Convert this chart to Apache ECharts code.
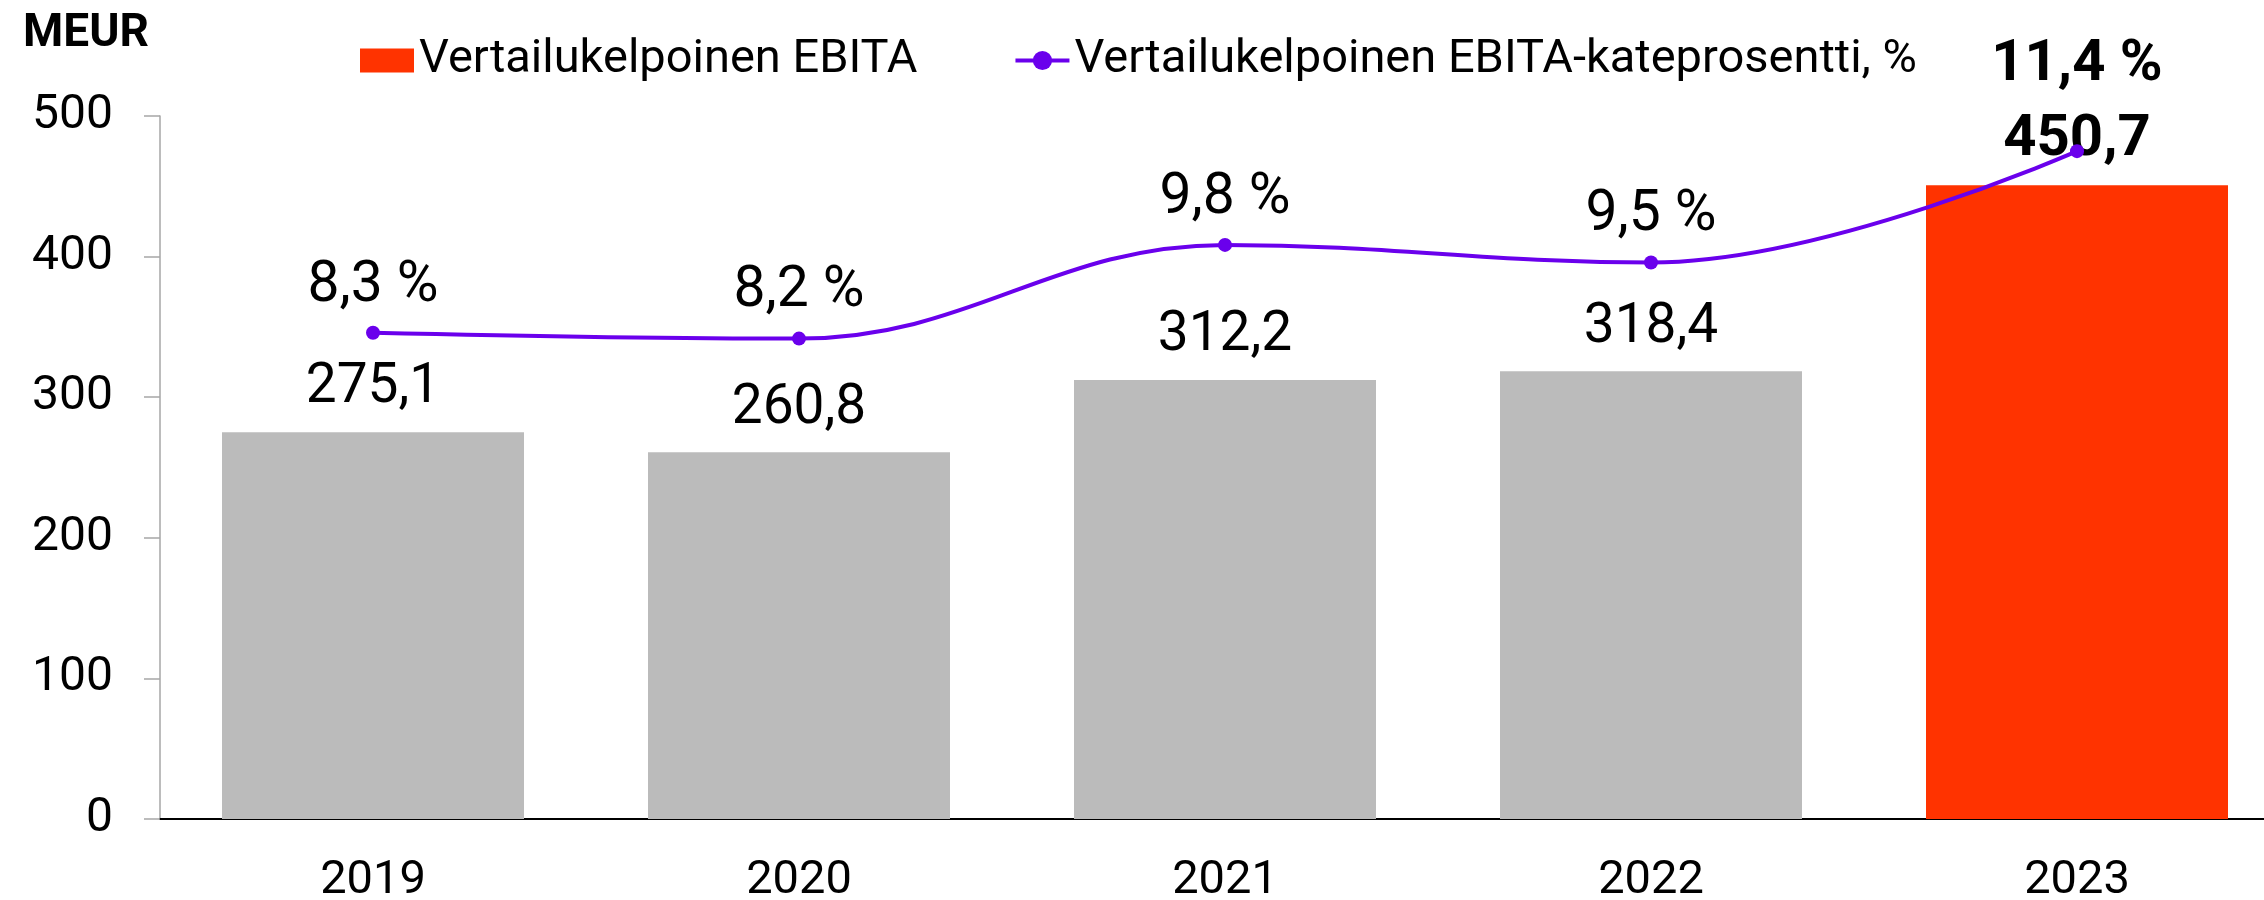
<!DOCTYPE html>
<html>
<head>
<meta charset="utf-8">
<title>Vertailukelpoinen EBITA</title>
<script src="https://cdn.jsdelivr.net/npm/echarts@6/dist/echarts.min.js"></script>
<style>
  html, body { margin: 0; padding: 0; background: #fff; overflow: hidden; }
  /* the plot runs past the right edge of the picture, as in the original */
  #chart { width: 2290px; height: 900px; }
</style>
</head>
<body>
<div id="chart"></div>
<script>
  // data
  var years = ['2019', '2020', '2021', '2022', '2023']
  var ebita = [275.1, 260.8, 312.2, 318.4, 450.7]
  var margin = [8.3, 8.2, 9.8, 9.5, 11.4]
  var yTicks = [0, 100, 200, 300, 400, 500]

  var FONT = 'Roboto'
  var GREY = '#bbbbbb'
  var RED = '#ff3300'
  var PURPLE = '#6a00ec'
  var last = years.length - 1

  function fi (v) {
    return String(v).replace('.', ',')
  }

  var barData = ebita.map(function (v, i) {
    var d = { value: v }
    if (i !== last) {
      d.itemStyle = { color: GREY }
    } else {
      d.label = { fontWeight: 'bold', fontSize: 58 }
    }
    return d
  })

  var lineData = margin.map(function (v, i) {
    var d = { value: v }
    if (i === last) {
      d.label = { fontWeight: 'bold', fontSize: 58, distance: 50 }
    }
    return d
  })

  var chart = echarts.init(document.getElementById('chart'))

  var option = {
    animation: false,
    textStyle: { fontFamily: FONT },
    title: {
      text: 'MEUR',
      left: 18,
      top: 6,
      textStyle: { fontFamily: FONT, fontSize: 46, fontWeight: 'bold', color: '#000' }
    },
    legend: {
      left: 355,
      top: 32,
      itemWidth: 54,
      itemHeight: 24,
      itemGap: 96,
      textStyle: { fontFamily: FONT, fontSize: 47, color: '#000' },
      lineStyle: { width: 4 },
      data: [
        { name: 'Vertailukelpoinen EBITA', icon: 'rect' },
        { name: 'Vertailukelpoinen EBITA-kateprosentti, %' }
      ]
    },
    grid: {
      left: 160,
      right: 0,
      top: 116,
      bottom: 81,
      containLabel: false,
      outerBoundsMode: 'none'
    },
    xAxis: {
      type: 'category',
      data: years,
      axisLine: { lineStyle: { color: '#000', width: 2 } },
      axisTick: { show: false },
      axisLabel: { fontFamily: FONT, fontSize: 47, color: '#000', margin: 39 }
    },
    yAxis: [
      {
        type: 'value',
        min: yTicks[0],
        max: yTicks[yTicks.length - 1],
        interval: 100,
        axisLine: { show: true, lineStyle: { color: '#a6a6a6', width: 1.5 } },
        axisTick: { show: true, inside: false, length: 16, lineStyle: { color: '#a6a6a6', width: 1.5 } },
        splitLine: { show: false },
        axisLabel: { fontFamily: FONT, fontSize: 48, color: '#000', margin: 47 }
      },
      {
        type: 'value',
        min: 0,
        max: 12,
        show: false,
        splitLine: { show: false }
      }
    ],
    series: [
      {
        name: 'Vertailukelpoinen EBITA',
        type: 'bar',
        barWidth: 302,
        itemStyle: { color: RED },
        label: {
          show: true,
          position: 'top',
          distance: 16,
          fontFamily: FONT,
          fontSize: 55,
          color: '#000',
          formatter: function (p) { return fi(p.value) }
        },
        data: barData
      },
      {
        name: 'Vertailukelpoinen EBITA-kateprosentti, %',
        type: 'line',
        yAxisIndex: 1,
        smooth: 0.4,
        symbol: 'circle',
        symbolSize: 14,
        lineStyle: { color: PURPLE, width: 4 },
        itemStyle: { color: PURPLE },
        label: {
          show: true,
          position: 'top',
          distance: 11,
          fontFamily: FONT,
          fontSize: 57,
          color: '#000',
          formatter: function (p) { return fi(p.value) + ' %' }
        },
        data: lineData
      }
    ]
  }

  chart.setOption(option)
</script>
</body>
</html>
